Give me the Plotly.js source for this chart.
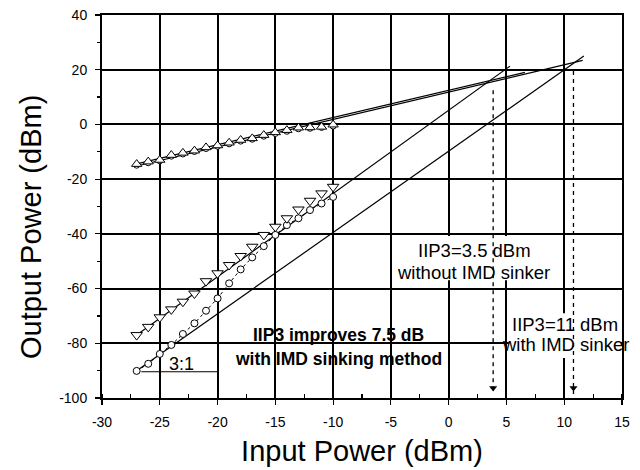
<!DOCTYPE html>
<html>
<head>
<meta charset="utf-8">
<script src="https://cdn.plot.ly/plotly-3.0.1.min.js"></script>
<style>html,body{margin:0;padding:0;background:#fff;}#chart{width:640px;height:470px;}</style>
</head>
<body>
<div id="chart"></div>
<script>
// ---- data ----
var inputPower = [-27,-26,-25,-24,-23,-22,-21,-20,-19,-18,-17,-16,-15,-14,-13,-12,-11,-10];
var fundWith = [-14.5,-13.6,-13.0,-11.2,-10.4,-9.6,-8.4,-7.7,-6.7,-5.7,-5.1,-3.9,-2.9,-2.1,-1.2,-1.1,-0.9,-0.1];
var fundWithout = [-14.9,-14.0,-13.3,-11.6,-10.8,-9.9,-8.8,-8.0,-7.1,-6.1,-5.4,-4.3,-3.3,-2.5,-1.6,-1.4,-1.1,-0.6];
var im3Without = [-77.0,-74.0,-70.5,-67.6,-64.8,-61.8,-57.3,-54.4,-51.4,-48.1,-44.7,-40.4,-37.4,-34.3,-31.1,-27.9,-25.2,-22.8];
var im3With = [-90.1,-87.5,-83.9,-80.6,-76.6,-72.7,-68.1,-63.6,-58.1,-53.0,-48.6,-44.5,-40.4,-36.8,-34.3,-31.3,-28.9,-26.5];

// fitted (extrapolated) lines: end points
var fundFitAX = [-27, 11.6], fundFitAY = [-15.2, 23.4];
var fundFitBX = [-27, 6.6],  fundFitBY = [-14.4, 19.0];
var im3WithoutFitX = [-27, 5.3], im3WithoutFitY = [-77.0, 21.3];
var im3WithFitX = [-27, 11.7], im3WithFitY = [-90.0, 25.0];
var slopeRefX = [-26.6, -19.9], slopeRefY = [-90.4, -90.4];

// IIP3 markers
var iip3X = [3.85, 10.8];
var iip3TopY = [12.5, 19.5];
var axisBottom = -98.5;

var xTicks = [-30,-25,-20,-15,-10,-5,0,5,10,15];
var xTickText = ["-30","-25","-20","-15","-10","-5","0","5","10","15"];
var yTicks = [-100,-80,-60,-40,-20,0,20,40];
var yTickText = ["-100","-80","-60","-40","-20","0","20","40"];

var xTitle = "Input Power (dBm)";
var yTitle = "Output Power (dBm)";

var FONT = "Liberation Sans, Arial, sans-serif";
var lineStyle = {color:"black", width:1.2};

var traces = [
  {x:fundFitAX, y:fundFitAY, mode:"lines", line:lineStyle, hoverinfo:"skip"},
  {x:fundFitBX, y:fundFitBY, mode:"lines", line:lineStyle, hoverinfo:"skip"},
  {x:im3WithoutFitX, y:im3WithoutFitY, mode:"lines", line:lineStyle, hoverinfo:"skip"},
  {x:im3WithFitX, y:im3WithFitY, mode:"lines", line:lineStyle, hoverinfo:"skip"},
  {x:slopeRefX, y:slopeRefY, mode:"lines", line:lineStyle, hoverinfo:"skip"},
  {x:[iip3X[0], iip3X[0]], y:[iip3TopY[0], axisBottom], mode:"lines", line:{color:"black", width:1.3, dash:"4px,4px"}},
  {x:[iip3X[1], iip3X[1]], y:[iip3TopY[1], axisBottom], mode:"lines", line:{color:"black", width:1.3, dash:"4px,4px"}},
  {x:iip3X, y:[axisBottom+2.2, axisBottom+2.2], mode:"markers", marker:{symbol:"triangle-down", size:7, color:"black"}},
  {x:inputPower, y:fundWithout, mode:"markers", marker:{symbol:"circle", size:6, color:"white", line:{color:"black", width:1}}},
  {x:inputPower, y:fundWith, mode:"markers", marker:{symbol:"triangle-up", size:9, color:"white", line:{color:"black", width:1}}},
  {x:inputPower, y:im3With, mode:"lines+markers", line:{color:"black", width:1, dash:"3px,3px"}, marker:{symbol:"circle", size:7, color:"white", line:{color:"black", width:1}}},
  {x:inputPower, y:im3Without, mode:"markers", marker:{symbol:"triangle-down", size:10, color:"white", line:{color:"black", width:1}}}
];

function ann(text, x, y, size, bold) {
  return {x:x, y:y, xref:"x", yref:"y", text: bold ? "<b>"+text+"</b>" : text, showarrow:false,
          xanchor:"center", yanchor:"middle", font:{family:FONT, size:size, color:"black"}};
}

var layout = {
  width:640, height:470,
  margin:{l:102, r:18, t:15, b:72},
  paper_bgcolor:"white", plot_bgcolor:"white",
  showlegend:false,
  font:{family:FONT, color:"black"},
  xaxis:{
    range:[-30,15], tickmode:"array", tickvals:xTicks, ticktext:xTickText,
    showgrid:true, gridcolor:"black", gridwidth:2, zeroline:false,
    showline:true, linecolor:"black", linewidth:2, mirror:true,
    ticks:"outside", ticklen:5, tickcolor:"black", tickwidth:1.2, ticklabelstandoff:5,
    minor:{tickmode:"linear", tick0:-30, dtick:2.5, ticks:"inside", ticklen:4, tickcolor:"black", tickwidth:1.2, showgrid:false},
    tickfont:{family:FONT, size:14, color:"black"},
    title:{text:xTitle, font:{family:FONT, size:29, color:"black"}, standoff:12}
  },
  yaxis:{
    range:[-100,40], tickmode:"array", tickvals:yTicks, ticktext:yTickText,
    showgrid:true, gridcolor:"black", gridwidth:2, zeroline:false,
    showline:true, linecolor:"black", linewidth:2, mirror:true,
    ticks:"outside", ticklen:5, tickcolor:"black", tickwidth:1.2, ticklabelstandoff:5,
    minor:{tickmode:"linear", tick0:-100, dtick:10, ticks:"outside", ticklen:3, tickcolor:"black", tickwidth:1.2, showgrid:false},
    tickfont:{family:FONT, size:14, color:"black"}
  },
  shapes:[
    {type:"rect", xref:"x", yref:"y", x0:-4.7, x1:9.3, y0:-57, y1:-40.8, layer:"between", fillcolor:"white", line:{width:0}},
    {type:"rect", xref:"x", yref:"y", x0:5.2, x1:14.9, y0:-85.4, y1:-69, layer:"between", fillcolor:"white", line:{width:0}}
  ],
  annotations:[
    {x:-0.1365, y:0.4465, xref:"paper", yref:"paper", text:yTitle, textangle:-90, showarrow:false,
     xanchor:"center", yanchor:"middle", font:{family:FONT, size:29, color:"black"}},
    ann("3:1", -23.16, -87.4, 18, false),
    ann("IIP3 improves 7.5 dB", -9.57, -77.0, 17.5, true),
    ann("with IMD sinking method", -9.53, -85.8, 17.5, true),
    ann("IIP3=3.5 dBm", 2.22, -46.2, 18.5, false),
    ann("without IMD sinker", 2.15, -54.2, 18.5, false),
    ann("IIP3=11 dBm", 10.08, -73.3, 18.5, false),
    ann("with IMD sinker", 10.15, -80.6, 18.5, false)
  ]
};

Plotly.newPlot("chart", traces, layout, {displayModeBar:false, staticPlot:true});
</script>
</body>
</html>
